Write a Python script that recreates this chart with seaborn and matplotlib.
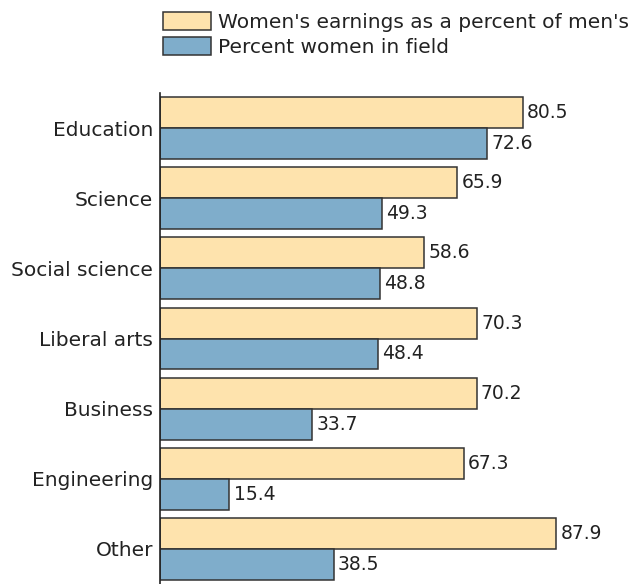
import matplotlib.pyplot as plt
import seaborn as sns
import pandas as pd
from matplotlib.patches import Patch

fields = ['Education', 'Science', 'Social science', 'Liberal arts', 'Business', 'Engineering', 'Other']
earnings_pct = [80.5, 65.9, 58.6, 70.3, 70.2, 67.3, 87.9]
women_pct = [72.6, 49.3, 48.8, 48.4, 33.7, 15.4, 38.5]
series = ["Women's earnings as a percent of men's", 'Percent women in field']
colors = ['#fee3ad', '#7fadcb']

df = pd.DataFrame({
    'field': fields * 2,
    'value': earnings_pct + women_pct,
    'series': [series[0]] * len(fields) + [series[1]] * len(fields),
})

sns.set_style('white')
plt.rcParams['font.family'] = ['DejaVu Sans']

fig = plt.figure(figsize=(6.36, 5.84), dpi=100)
ax = fig.add_axes([160 / 636, 0.0, 460 / 636, 491 / 584])

sns.barplot(data=df, x='value', y='field', hue='series', orient='h',
            palette=colors, saturation=1, width=0.88, edgecolor='#333333',
            linewidth=1.1, ax=ax, legend=False)

for cont in ax.containers:
    ax.bar_label(cont, fmt='%.1f', padding=3, fontsize=13.5, color='#222222')

ax.set_xlim(0, 102)
ax.set_ylim(6.5, -0.5)
ax.set_xlabel('')
ax.set_ylabel('')
ax.set_xticks([])
ax.tick_params(axis='y', length=0, labelsize=14.5, labelcolor='#222222', pad=5)
for s in ['top', 'right', 'bottom']:
    ax.spines[s].set_visible(False)
ax.spines['left'].set_color('#222222')
ax.spines['left'].set_linewidth(1.2)

handles = [Patch(facecolor=c, edgecolor='#333333', linewidth=1.1) for c in colors]
fig.legend(handles, series, loc='upper left', bbox_to_anchor=(155 / 636, 1 - 4 / 584),
           frameon=False, fontsize=14.5, handlelength=2.4, handleheight=1.0,
           handletextpad=0.35, labelspacing=0.25, borderaxespad=0, labelcolor='#222222')

fig.savefig('out.png', dpi=100)
